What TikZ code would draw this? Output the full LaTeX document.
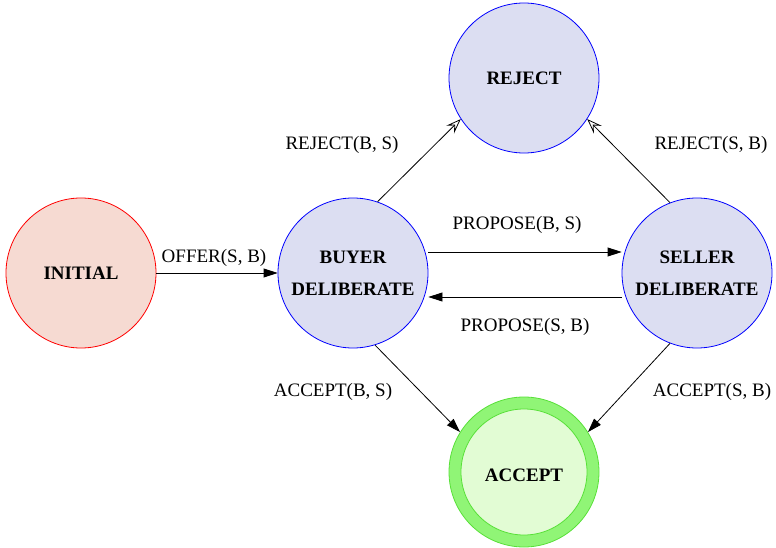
\documentclass[tikz,border=0pt]{standalone}
\usepackage{fontspec}
\setmainfont{Liberation Serif}
\usetikzlibrary{arrows.meta}
\definecolor{stateblue}{HTML}{DCDEF2}
\definecolor{initfill}{HTML}{F6DAD2}
\definecolor{ringgreen}{HTML}{90F576}
\definecolor{ringedge}{HTML}{58E038}
\definecolor{acceptfill}{HTML}{E2FCD4}
\tikzset{
  x=1pt, y=-1pt,
  state/.style={circle, minimum size=150pt, inner sep=0pt, align=center,
    font=\fontsize{19}{32}\selectfont\bfseries, line width=0.8pt},
  midstate/.style={state, draw=blue, fill=stateblue},
  edge/.style={draw, line width=0.8pt, -{Triangle[length=14pt,width=9pt]}},
  rejedge/.style={draw, line width=0.8pt, -{Stealth[open,length=15pt,width=11pt,inset=6pt]}},
  lbl/.style={font=\fontsize{19}{22}\selectfont, inner sep=0pt}
}
\begin{document}
\begin{tikzpicture}
\useasboundingbox (0,0) rectangle (776,548);
% states
\node[state, draw=red, fill=initfill] (init) at (81,273) {INITIAL};
\node[midstate] (buyer) at (353,273) {BUYER\\DELIBERATE};
\node[midstate] (seller) at (697,273) {SELLER\\DELIBERATE};
\node[midstate] (reject) at (524,78) {REJECT};
% accepting state: thick green ring around a paler disc
\node[state, draw=ringedge, fill=ringgreen] (acceptring) at (524,472) {};
\node[state, minimum size=126pt, draw=ringedge, fill=acceptfill] (accept) at (524,472) {};
\node[font=\fontsize{19}{32}\selectfont\bfseries] (accepttext) at (524,475) {ACCEPT};
% transitions
\draw[edge] (init.east) -- (buyer.west);
\draw[edge] ([yshift=21pt]buyer.east) -- ([yshift=21pt]seller.west);
\draw[edge] ([yshift=-24pt]seller.west) -- ([yshift=-24pt]buyer.east);
\draw[rejedge] (buyer.71) -- (reject.213);
\draw[rejedge] (seller.111) -- (reject.327);
\draw[edge] (buyer.287) -- (acceptring.148);
\draw[edge] (seller.249) -- (acceptring.32);
% transition labels
\node[lbl] (l1) at (214,258) {OFFER(S, B)};
\node[lbl] (l2) at (517,225) {PROPOSE(B, S)};
\node[lbl] (l3) at (525,327) {PROPOSE(S, B)};
\node[lbl] (l4) at (342,145) {REJECT(B, S)};
\node[lbl] (l5) at (711,145) {REJECT(S, B)};
\node[lbl] (l6) at (333,392) {ACCEPT(B, S)};
\node[lbl] (l7) at (712,392) {ACCEPT(S, B)};
\end{tikzpicture}
\end{document}
